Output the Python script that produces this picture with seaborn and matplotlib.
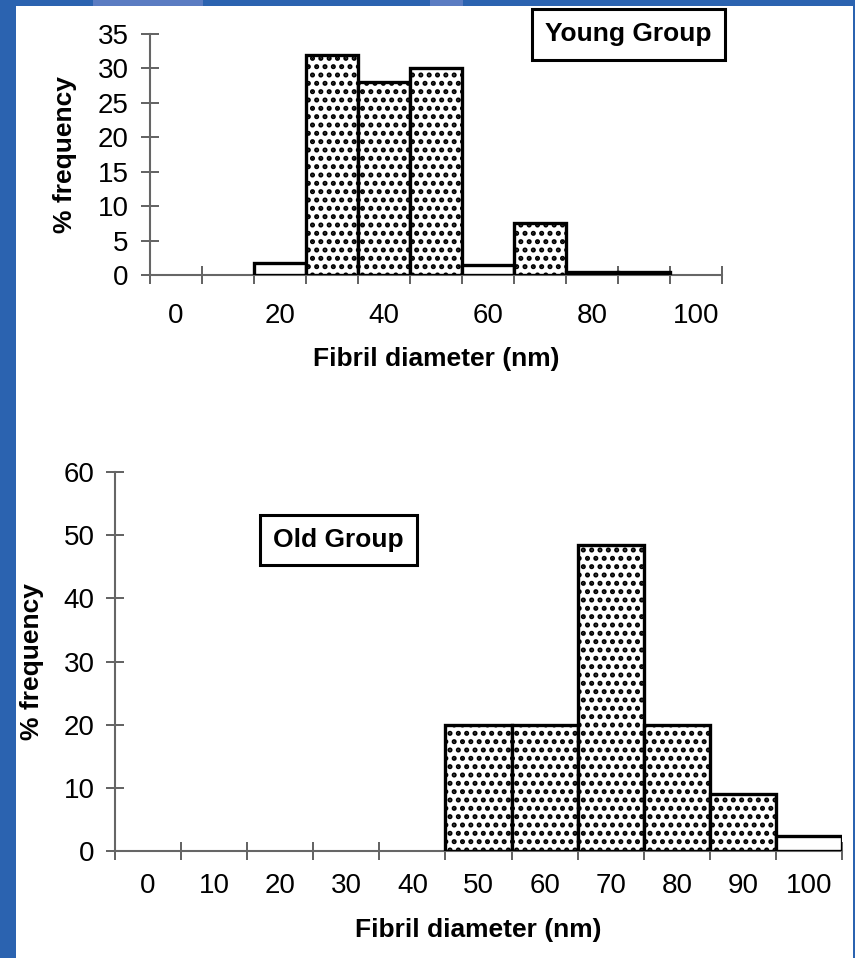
import numpy as np
import matplotlib
matplotlib.use('Agg')
import matplotlib.pyplot as plt
from matplotlib.patches import Rectangle
import seaborn as sns


diameters = [0, 10, 20, 30, 40, 50, 60, 70, 80, 90, 100]
young_freq = [0, 0, 1.7, 32, 28, 30, 1.4, 7.5, 0.4, 0.4, 0]
old_freq = [0, 0, 0, 0, 0, 20, 20, 48.5, 20, 9, 2.4]

sns.set_style('ticks')
plt.rcParams['font.family'] = ['Liberation Sans', 'DejaVu Sans']
plt.rcParams['hatch.linewidth'] = 2.4
plt.rcParams['text.color'] = 'black'
plt.rcParams['axes.labelcolor'] = 'black'
plt.rcParams['xtick.labelcolor'] = 'black'
plt.rcParams['ytick.labelcolor'] = 'black'

W, H = 855, 958
fig = plt.figure(figsize=(W / 100, H / 100), dpi=100)
fig.patch.set_facecolor('#2b63b0')
# white page on the blue slide background
fig.add_artist(Rectangle((16 / W, 0), (853 - 16) / W, (H - 6) / H,
                         transform=fig.transFigure, fc='white', ec='none', zorder=-10))
for x0, x1 in [(93, 203), (430, 463)]:
    fig.add_artist(Rectangle((x0 / W, (H - 6) / H), (x1 - x0) / W, 6 / H,
                             transform=fig.transFigure, fc='#5b7cc2', ec='none', zorder=-10))


def px_axes(left, right, top, bottom):
    return fig.add_axes([left / W, 1 - bottom / H, (right - left) / W, (bottom - top) / H])


def draw_panel(ax, freqs, ymax, ystep, label_every, xtick_pad, ytick_pad):
    sns.barplot(x=diameters, y=freqs, ax=ax, color='white', width=1, saturation=1,
                edgecolor='black', linewidth=2.4, errorbar=None)
    for bar, f in zip(ax.patches, freqs):
        bar.set_zorder(3)
        if f == 0:
            bar.set_visible(False)
        elif f > 5:
            bar.set_hatch('..')

    n = len(diameters)
    ax.set_facecolor('none')
    ax.set_xlim(-0.5, n - 0.5)
    ax.set_xticks(np.arange(n + 1) - 0.5)
    ax.set_xticklabels([])
    ax.set_xticks(np.arange(n), [str(d) if d % label_every == 0 else '' for d in diameters],
                  minor=True)
    ax.tick_params(axis='x', which='major', direction='inout', length=13, width=1.3,
                   color='#555')
    ax.tick_params(axis='x', which='minor', length=0, pad=xtick_pad, labelsize=20)

    ax.set_ylim(0, ymax)
    ax.set_yticks(np.arange(0, ymax + 1, ystep))
    ax.tick_params(axis='y', direction='inout', length=13, width=1.3, color='#555',
                   pad=ytick_pad, labelsize=20)

    sns.despine(ax=ax)
    for side in ['left', 'bottom']:
        ax.spines[side].set_color('#666')
        ax.spines[side].set_linewidth(1.5)

    ax.set_xlabel('Fibril diameter (nm)', fontsize=19, fontweight='bold')
    ax.set_ylabel('% frequency', fontsize=19, fontweight='bold')


box = dict(boxstyle='square,pad=0.5', fc='white', ec='black', lw=2.2)

ax1 = px_axes(150, 722, 34, 275)
draw_panel(ax1, young_freq, 35, 5, 20, 20, 9)
ax1.xaxis.set_label_coords(0.5, -0.30)
ax1.yaxis.set_label_coords(-0.128, 0.5)
ax1.text(0.836, 0.998, 'Young Group', transform=ax1.transAxes, ha='center', va='center',
         fontsize=19, fontweight='bold', bbox=box, zorder=5)

ax2 = px_axes(115, 842, 472, 851)
draw_panel(ax2, old_freq, 60, 10, 10, 16, 8)
ax2.xaxis.set_label_coords(0.5, -0.177)
ax2.yaxis.set_label_coords(-0.098, 0.5)
ax2.text(0.307, 0.821, 'Old Group', transform=ax2.transAxes, ha='center', va='center',
         fontsize=19, fontweight='bold', bbox=box, zorder=5)

plt.savefig('out.png', dpi=100, facecolor=fig.get_facecolor())
